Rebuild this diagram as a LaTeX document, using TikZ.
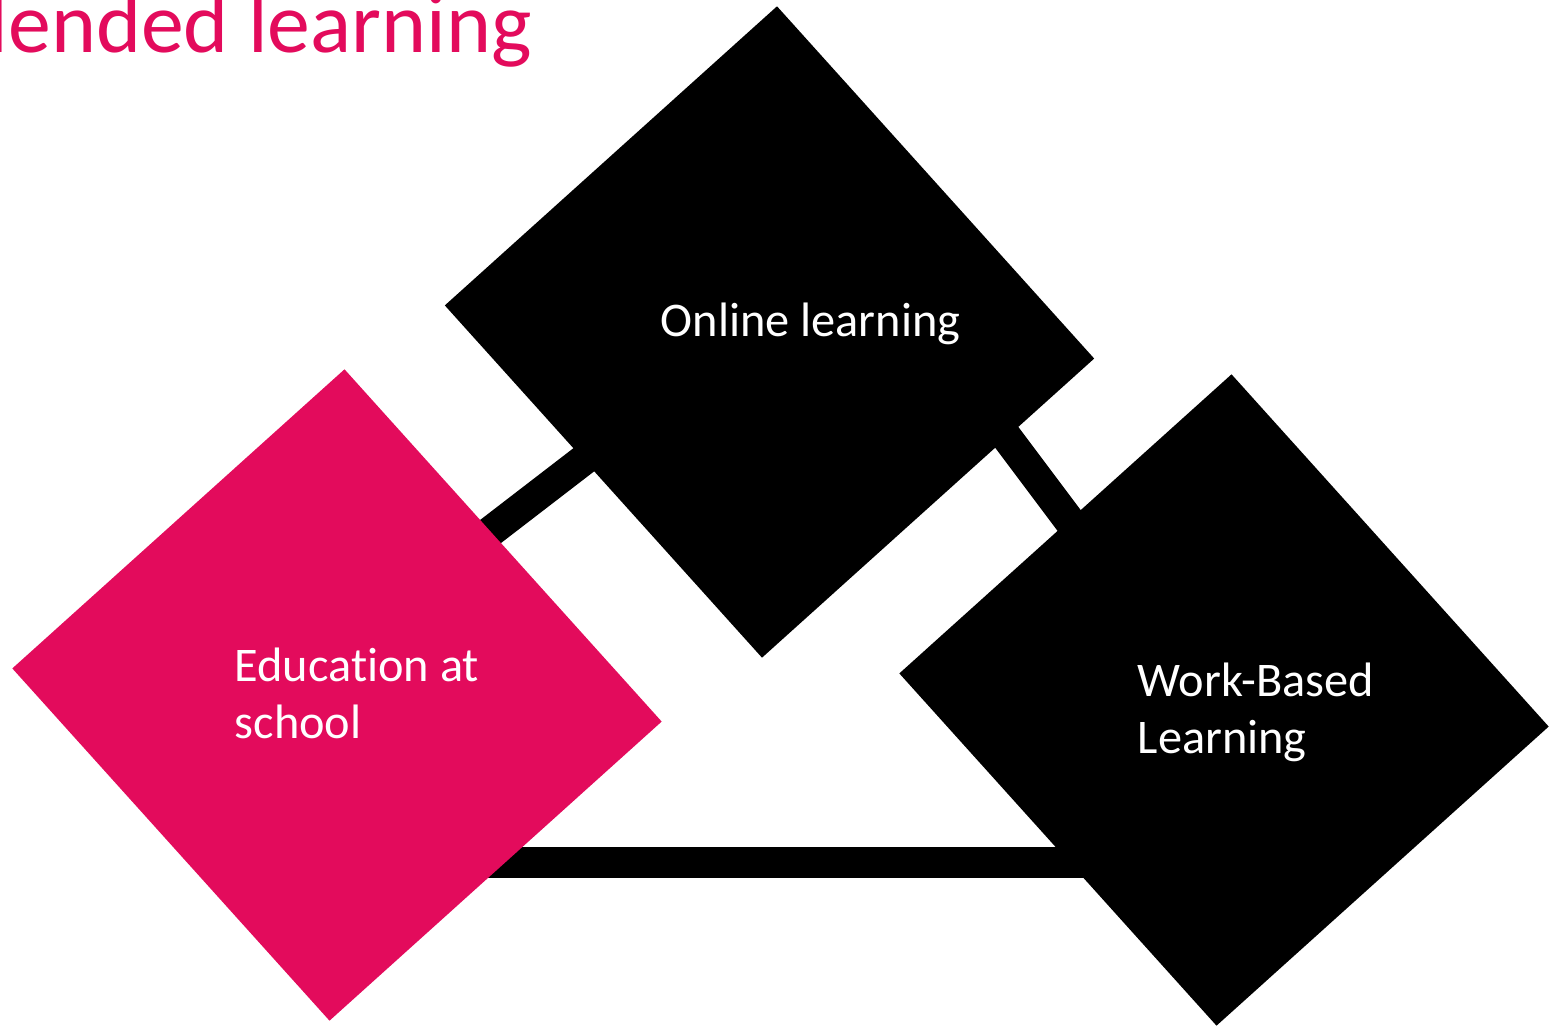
\documentclass[tikz,border=0pt]{standalone}
\usepackage{fontspec}
\setmainfont{Carlito}[Ligatures=NoCommon]
\usepackage{xcolor}
\usepackage{tikz}
\usetikzlibrary{
  positioning, calc, backgrounds
}
\definecolor{blendPink}{HTML}{E30B5C}
\definecolor{blendInk}{HTML}{000000}
\tikzset{
  tile/.style={rectangle, draw=none, inner sep=0pt,
    minimum width=4.74cm, minimum height=4.47cm, rotate=-48},
  tiletext/.style={text=white, inner sep=0pt, anchor=base west, align=left,
    font=\fontsize{13.75}{16.5}\selectfont},
  bar/.style={draw=blendInk, line width=0.31cm}
}

\begin{document}
\begin{tikzpicture}
    \useasboundingbox (0,0) rectangle (15.54,10.25);
    \clip (0,0) rectangle (15.54,10.25);
    % ---- title (runs off the page edge) ----
    \node[text=blendPink, inner sep=0pt, anchor=base west,
      font=\fontsize{24.4}{29}\selectfont] (title) at (-0.12,9.72) {lended learning};
    % ---- the three tiles ----
    \node[tile, fill=blendPink] (school) at (3.37,3.30) {};
    \node[tile, fill=blendInk] (online) at (7.695,6.93) {};
    \node[tile, fill=blendInk] (work) at (12.24,3.25) {};
    % text sits on the baseline of its last line
    \node[tiletext] (schooltext) at ($(school)+(-1.03,-0.44)$) {Education at\\school};
    \node[tiletext] (onlinetext) at ($(online)+(-1.095,-0.05)$) {Online learning};
    \node[tiletext] (worktext) at ($(work)+(-0.87,-0.54)$) {Work-Based\\Learning};
    % ---- links behind the tiles ----
    \begin{scope}[on background layer]
      \fill[white] (0,0) rectangle (15.54,10.25);
      \draw[bar] ($(school)+(1.10,1.30)$) -- ($(online)+(-1.405,-0.93)$);
      \draw[bar] ($(online)+(2.085,-0.67)$) -- ($(work)+(-1.26,1.41)$);
      \draw[bar] ($(school)+(1.13,-1.67)$) -- ($(work)+(-0.74,-1.62)$);
    \end{scope}
\end{tikzpicture}
\end{document}
